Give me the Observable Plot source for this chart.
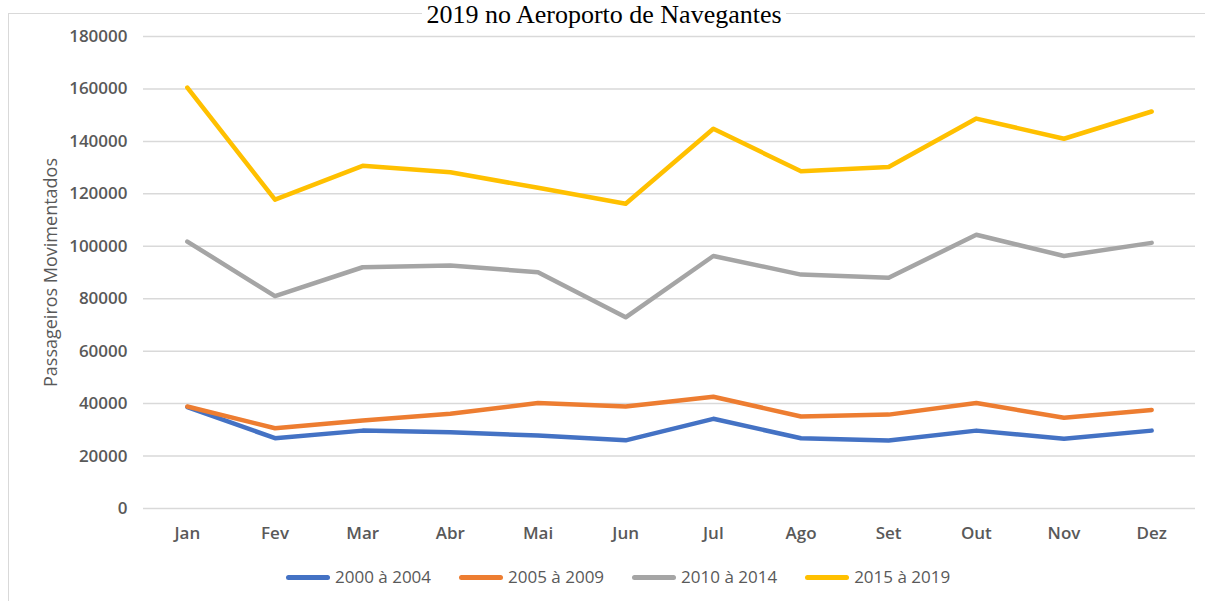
<!DOCTYPE html>
<html>
<head>
<meta charset="utf-8">
<script src="https://cdn.jsdelivr.net/npm/d3@7"></script>
<script src="https://cdn.jsdelivr.net/npm/@observablehq/plot@0.6"></script>
<style>
  body { margin: 0; background: #fff; }
  #wrap { position: relative; width: 1205px; height: 601px; overflow: hidden; background: #fff; font-family: "Open Sans", sans-serif; }
  #chart { position: absolute; left: 0; top: 0; }
  #title { position: absolute; left: 0; width: 1208px; top: 2px; text-align: center; font-family: "Liberation Serif", "Times New Roman", serif; font-size: 26px; line-height: 1; white-space: nowrap; color: #000; }
  #title span { display: inline-block; background: #fff; padding: 0 4px; }
  #frame { position: absolute; left: 8px; top: 13px; width: 1400px; height: 800px; border-left: 1.5px solid #d9d9d9; border-top: 1.5px solid #d9d9d9; pointer-events: none; }
  #legend { position: absolute; top: 566px; left: 286px; display: flex; align-items: center; font-size: 17px; line-height: 22px; color: #595959; white-space: nowrap; }
  .item { display: flex; align-items: center; margin-right: 28px; }
  .sw { width: 44px; height: 5px; border-radius: 3px; margin-right: 5px; }
</style>
</head>
<body>
<div id="wrap">
  <div id="chart"></div>
  <div id="frame"></div>
  <div id="title"><span>2019 no Aeroporto de Navegantes</span></div>
  <div id="legend"></div>
</div>
<script>
const months = ["Jan", "Fev", "Mar", "Abr", "Mai", "Jun", "Jul", "Ago", "Set", "Out", "Nov", "Dez"];
const seriesNames = ["2000 à 2004", "2005 à 2009", "2010 à 2014", "2015 à 2019"];
const seriesColors = ["#4472C4", "#ED7D31", "#A5A5A5", "#FFC000"];
const yTicks = [0, 20000, 40000, 60000, 80000, 100000, 120000, 140000, 160000, 180000];

const s2000a2004 = [38700, 26800, 29700, 29100, 27800, 26000, 34200, 26800, 25900, 29700, 26600, 29700];
const s2005a2009 = [38900, 30600, 33600, 36100, 40200, 38900, 42600, 35100, 35800, 40200, 34600, 37600];
const s2010a2014 = [101800, 81000, 92000, 92700, 90100, 72900, 96300, 89200, 88000, 104400, 96300, 101300];
const s2015a2019 = [160500, 117800, 130700, 128200, 122300, 116200, 144800, 128600, 130200, 148700, 141000, 151400];

const seriesValues = [s2000a2004, s2005a2009, s2010a2014, s2015a2019];
const data = seriesNames.flatMap((name, i) =>
  months.map((m, j) => ({ serie: name, mes: m, valor: seriesValues[i][j] }))
);

const chart = Plot.plot({
  width: 1205,
  height: 560,
  marginTop: 36,
  marginBottom: 52,
  marginLeft: 143,
  marginRight: 10,
  style: { fontFamily: "'Open Sans', sans-serif", background: "transparent", overflow: "visible" },
  x: { type: "point", domain: months, padding: 0.5, round: false, label: null },
  y: { domain: [0, 180000], label: null },
  color: { domain: seriesNames, range: seriesColors },
  marks: [
    Plot.gridY(yTicks, { stroke: "#d9d9d9", strokeOpacity: 1, strokeWidth: 1.5 }),
    Plot.axisY(yTicks, {
      tickSize: 0, tickPadding: 16, tickFormat: d => String(d),
      fontSize: 17, fontWeight: 600, fill: "#595959", label: null
    }),
    Plot.axisX({
      tickSize: 0, tickPadding: 18,
      fontSize: 17, fontWeight: 600, fill: "#595959", label: null
    }),
    Plot.text(["Passageiros Movimentados"], {
      text: d => d, frameAnchor: "left", dx: -92, rotate: -90,
      lineAnchor: "middle", textAnchor: "middle",
      fontSize: 18, fill: "#595959"
    }),
    Plot.lineY(data, {
      x: "mes", y: "valor", z: "serie", stroke: "serie",
      strokeWidth: 4.5, strokeLinecap: "round", strokeLinejoin: "round"
    })
  ]
});
document.getElementById("chart").appendChild(chart);

const legend = document.getElementById("legend");
seriesNames.forEach((name, i) => {
  const item = document.createElement("div");
  item.className = "item";
  const sw = document.createElement("span");
  sw.className = "sw";
  sw.style.background = seriesColors[i];
  const label = document.createElement("span");
  label.textContent = name;
  item.appendChild(sw);
  item.appendChild(label);
  legend.appendChild(item);
});
</script>
</body>
</html>
